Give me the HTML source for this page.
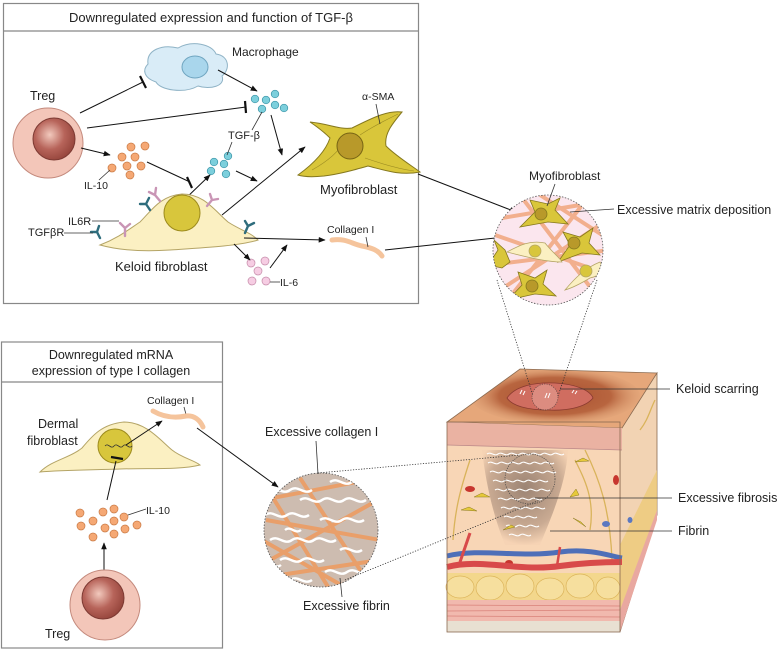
<!DOCTYPE html>
<html><head><meta charset="utf-8"><style>
html,body{margin:0;padding:0;background:#fff}
svg{display:block}
text{font-family:"Liberation Sans",sans-serif;fill:#222}
</style></head><body>
<svg width="783" height="649" viewBox="0 0 783 649" xmlns="http://www.w3.org/2000/svg">
<defs>
<marker id="ar" viewBox="0 0 10 10" refX="9" refY="5" markerWidth="7" markerHeight="7" orient="auto"><path d="M0,1 L10,5 L0,9z" fill="#111"/></marker>
<radialGradient id="tg" cx="0.4" cy="0.4" r="0.7"><stop offset="0" stop-color="#f2c9bd"/><stop offset="0.5" stop-color="#b7645a"/><stop offset="1" stop-color="#8e3e35"/></radialGradient>
<radialGradient id="scar" cx="0.5" cy="0.5" r="0.55"><stop offset="0" stop-color="#a84f30"/><stop offset="0.6" stop-color="#b8653f"/><stop offset="1" stop-color="#e2ad82" stop-opacity="0"/></radialGradient>
<radialGradient id="fib" cx="0.5" cy="0.4" r="0.6"><stop offset="0" stop-color="#9c8474"/><stop offset="0.7" stop-color="#c9aa92"/><stop offset="1" stop-color="#f6d3b4"/></radialGradient>
<clipPath id="c1"><circle cx="548" cy="250" r="55"/></clipPath>
<clipPath id="c2"><circle cx="321" cy="530" r="57"/></clipPath>
<clipPath id="tf"><polygon points="447,422 622,428 657,373 520,369"/></clipPath>
</defs>

<rect x="3.5" y="3.5" width="415" height="300" fill="#fff" stroke="#888" stroke-width="1.2"/>
<line x1="3.5" y1="31" x2="418.5" y2="31" stroke="#888" stroke-width="1.2"/>
<text x="211" y="22" font-size="13" text-anchor="middle">Downregulated expression and function of TGF-β</text>

<path d="M148,64 C146,50 162,44 178,48 C192,40 212,44 216,54 C230,56 230,70 222,76 C226,86 210,90 198,86 C184,94 160,90 156,82 C144,78 142,70 148,64Z" fill="#d9ecf7" stroke="#8fb3c6"/>
<ellipse cx="195" cy="67" rx="13" ry="11" fill="#a9d6ec" stroke="#6fa5c0"/>
<text x="232" y="56" font-size="12">Macrophage</text>

<text x="30" y="100" font-size="12.5">Treg</text>
<circle cx="48" cy="143" r="35" fill="#f3c6b9" stroke="#c48a7d"/>
<circle cx="54" cy="139" r="21" fill="url(#tg)" stroke="#7d3a33"/>

<line x1="80" y1="113" x2="143" y2="82" stroke="#111"/>
<line x1="140" y1="76" x2="146" y2="88" stroke="#111" stroke-width="2.2"/>
<line x1="87" y1="128" x2="246" y2="107" stroke="#111"/>
<line x1="245" y1="101" x2="246" y2="113" stroke="#111" stroke-width="2.2"/>
<line x1="81" y1="148" x2="110" y2="155" stroke="#111" marker-end="url(#ar)"/>
<line x1="147" y1="162" x2="190" y2="182" stroke="#111"/>
<line x1="187" y1="177" x2="192" y2="188" stroke="#111" stroke-width="2.2"/>

<g fill="#f5a874" stroke="#c97a45" stroke-width="0.7">
<circle cx="131" cy="147" r="4"/><circle cx="145" cy="146" r="4"/><circle cx="122" cy="157" r="4"/><circle cx="135" cy="157" r="4"/><circle cx="127" cy="166" r="4"/><circle cx="141" cy="166" r="4"/><circle cx="112" cy="168" r="4"/><circle cx="130" cy="175" r="4"/>
</g>
<text x="84" y="189" font-size="10.5">IL-10</text>
<line x1="99" y1="180" x2="110" y2="170" stroke="#333" stroke-width="0.8"/>

<g fill="#7ccfdc" stroke="#3a93a6" stroke-width="0.7">
<circle cx="255" cy="99" r="3.8"/><circle cx="266" cy="100" r="3.8"/><circle cx="275" cy="94" r="3.8"/><circle cx="275" cy="105" r="3.8"/><circle cx="262" cy="109" r="3.8"/><circle cx="284" cy="108" r="3.8"/>
<circle cx="228" cy="156" r="3.8"/><circle cx="214" cy="162" r="3.8"/><circle cx="224" cy="164" r="3.8"/><circle cx="211" cy="171" r="3.8"/><circle cx="226" cy="174" r="3.8"/>
</g>
<text x="228" y="139" font-size="11">TGF-β</text>
<line x1="252" y1="130" x2="262" y2="112" stroke="#333" stroke-width="0.8"/>
<line x1="232" y1="142" x2="227" y2="155" stroke="#333" stroke-width="0.8"/>

<line x1="218" y1="70" x2="257" y2="91" stroke="#111" marker-end="url(#ar)"/>
<line x1="271" y1="115" x2="282" y2="155" stroke="#111" marker-end="url(#ar)"/>
<line x1="236" y1="171" x2="257" y2="181" stroke="#111" marker-end="url(#ar)"/>
<line x1="183" y1="201" x2="210" y2="175" stroke="#111" marker-end="url(#ar)"/>
<line x1="222" y1="215" x2="305" y2="147" stroke="#111" marker-end="url(#ar)"/>

<path d="M100,245 C118,238 128,230 140,222 C152,210 160,196 182,194 C204,194 214,210 228,222 C240,230 250,232 258,240 C240,246 200,248 170,250 C140,252 118,250 100,245Z" fill="#fbf0c2" stroke="#b4a466"/>
<circle cx="182" cy="213" r="18" fill="#d8c63c" stroke="#9c8a1c"/>
<g stroke-width="2.4" fill="none" stroke-linecap="round">
<path d="M125,236 v-8 M125,228 l-5,-5 M125,228 l5,-4" stroke="#c995b5"/>
<path d="M160,201 l-5,-6 M155,195 l-6,-3 M155,195 l1,-7" stroke="#c995b5"/>
<path d="M207,206 l5,-6 M212,200 l-2,-6 M212,200 l6,-1" stroke="#c995b5"/>
<path d="M100,238 l-3,-6 M97,232 l-6,0 M97,232 l2,-6" stroke="#2f6d7d"/>
<path d="M150,210 l-4,-6 M146,204 l-6,0 M146,204 l3,-6" stroke="#2f6d7d"/>
<path d="M245,233 l3,-7 M248,226 l-3,-5 M248,226 l6,-3" stroke="#2f6d7d"/>
</g>
<text x="68" y="225" font-size="11">IL6R</text>
<line x1="92" y1="221" x2="119" y2="221" stroke="#333" stroke-width="0.8"/>
<text x="28" y="236" font-size="11">TGFβR</text>
<line x1="64" y1="233" x2="93" y2="233" stroke="#333" stroke-width="0.8"/>
<text x="115" y="271" font-size="13">Keloid fibroblast</text>

<line x1="244" y1="238" x2="325" y2="240" stroke="#111" marker-end="url(#ar)"/>
<path d="M332,240 C346,238 352,244 362,246 C372,248 378,250 382,256" stroke="#f5c49c" stroke-width="5" fill="none" stroke-linecap="round"/>
<text x="327" y="233" font-size="10.5">Collagen I</text>
<line x1="366" y1="237" x2="368" y2="247" stroke="#333" stroke-width="0.8"/>

<g fill="#f6cde3" stroke="#c48aa8" stroke-width="0.7">
<circle cx="251" cy="263" r="4"/><circle cx="265" cy="261" r="4"/><circle cx="258" cy="271" r="4"/><circle cx="252" cy="281" r="4"/><circle cx="266" cy="281" r="4"/>
</g>
<text x="280" y="286" font-size="10.5">IL-6</text>
<line x1="270" y1="282" x2="280" y2="282" stroke="#333" stroke-width="0.8"/>
<line x1="234" y1="244" x2="250" y2="260" stroke="#111" marker-end="url(#ar)"/>
<line x1="270" y1="268" x2="287" y2="245" stroke="#111" marker-end="url(#ar)"/>

<path d="M298,175 C316,162 326,150 330,138 C322,130 316,126 310,122 C330,124 340,130 352,128 C372,118 388,110 402,112 C392,124 384,134 386,146 C396,156 412,166 420,172 C400,176 384,170 368,166 C354,170 340,174 324,176 C314,177 304,177 298,175Z" fill="#d9c63a" stroke="#85781e"/>
<g stroke="#9c8c22" stroke-width="0.6" fill="none"><path d="M312,170 C330,160 340,150 345,140"/><path d="M360,135 C375,125 390,118 398,114"/><path d="M365,158 C385,165 400,169 414,171"/></g>
<circle cx="350" cy="146" r="13" fill="#b8992a" stroke="#776414"/>
<text x="362" y="100" font-size="10.5">α-SMA</text>
<line x1="376" y1="104" x2="380" y2="124" stroke="#333" stroke-width="0.8"/>
<text x="320" y="194" font-size="13">Myofibroblast</text>

<line x1="418" y1="174" x2="516" y2="212" stroke="#111" marker-end="url(#ar)"/>
<line x1="385" y1="250" x2="514" y2="236" stroke="#111" marker-end="url(#ar)"/>

<circle cx="548" cy="250" r="55" fill="#fbe6ee"/>
<g clip-path="url(#c1)">
<g stroke="#f0a57c" stroke-width="4" fill="none" opacity="0.85">
<path d="M490,220 L610,200"/><path d="M495,235 L610,275"/><path d="M500,290 L600,225"/><path d="M520,195 L600,300"/><path d="M490,265 L610,250"/><path d="M500,310 L590,195"/><path d="M540,195 L610,240"/>
</g>
<g fill="#d9c63a" stroke="#85781e" stroke-width="0.8">
<path d="M520,227 L535,212 L530,200 L548,204 L560,198 L555,210 L568,224 L548,222Z"/><circle cx="541" cy="214" r="6" fill="#b8992a"/>
<path d="M558,262 L570,245 L563,232 L580,237 L593,228 L589,243 L600,255 L582,253Z"/><circle cx="574" cy="243" r="6" fill="#b8992a"/>
<path d="M508,300 L522,285 L518,272 L535,278 L547,270 L543,284 L556,296 L535,294Z"/><circle cx="532" cy="286" r="6" fill="#b8992a"/>
<path d="M488,265 L498,250 L494,240 L505,250 L510,262 L502,268Z"/>
</g>
<g fill="#fbf0c2" stroke="#b4a466" stroke-width="0.8">
<path d="M507,252 C520,245 530,240 545,243 C552,252 560,258 562,262 C548,262 530,258 507,252Z"/><circle cx="535" cy="251" r="6" fill="#d8c63c"/>
<path d="M565,290 C575,278 585,268 600,262 C605,270 600,276 590,278 C580,284 572,288 565,290Z"/><circle cx="586" cy="271" r="6" fill="#d8c63c"/>
</g>
</g>
<circle cx="548" cy="250" r="55" fill="none" stroke="#555" stroke-width="0.8" stroke-dasharray="1.5,1.5"/>
<text x="529" y="180" font-size="12">Myofibroblast</text>
<line x1="555" y1="184" x2="547" y2="206" stroke="#333" stroke-width="0.8"/>
<text x="617" y="214" font-size="12.5">Excessive matrix deposition</text>
<line x1="570" y1="212" x2="614" y2="209" stroke="#333" stroke-width="0.8"/>

<rect x="1.5" y="342" width="221" height="306" fill="#fff" stroke="#888" stroke-width="1.2"/>
<line x1="1.5" y1="382" x2="222.5" y2="382" stroke="#888" stroke-width="1.2"/>
<text x="111" y="359" font-size="12.5" text-anchor="middle">Downregulated mRNA</text>
<text x="111" y="375" font-size="12.5" text-anchor="middle">expression of type I collagen</text>

<text x="38" y="428" font-size="12.5">Dermal</text>
<text x="27" y="445" font-size="12.5">fibroblast</text>
<path d="M40,472 C52,460 70,458 82,448 C92,436 102,424 124,422 C146,422 160,440 172,450 C182,458 194,460 200,465 C180,470 150,468 120,469 C90,470 62,470 40,472Z" fill="#fbf0c2" stroke="#b4a466"/>
<circle cx="115" cy="446" r="17" fill="#d8c63c" stroke="#9c8a1c"/>
<path d="M105,446 c3,-4 6,4 9,0 c3,-4 6,4 9,0 c3,-4 6,4 9,0" stroke="#333" fill="none" stroke-width="0.8"/>
<line x1="111" y1="457" x2="123" y2="459" stroke="#111" stroke-width="2.2"/>
<line x1="107" y1="500" x2="116" y2="461" stroke="#111"/>
<line x1="126" y1="445" x2="162" y2="421" stroke="#111" marker-end="url(#ar)"/>
<text x="147" y="404" font-size="10.5">Collagen I</text>
<line x1="184" y1="407" x2="187" y2="418" stroke="#333" stroke-width="0.8"/>
<path d="M153,411 C165,418 176,418 186,416 C194,415 200,420 203,427" stroke="#f5c49c" stroke-width="5" fill="none" stroke-linecap="round"/>

<g fill="#f5a874" stroke="#c97a45" stroke-width="0.7">
<circle cx="80" cy="513" r="4"/><circle cx="103" cy="512" r="4"/><circle cx="114" cy="509" r="4"/><circle cx="124" cy="517" r="4"/><circle cx="93" cy="521" r="4"/><circle cx="114" cy="521" r="4"/><circle cx="81" cy="526" r="4"/><circle cx="105" cy="528" r="4"/><circle cx="125" cy="529" r="4"/><circle cx="137" cy="525" r="4"/><circle cx="93" cy="537" r="4"/><circle cx="114" cy="534" r="4"/>
</g>
<text x="146" y="514" font-size="10.5">IL-10</text>
<line x1="128" y1="515" x2="146" y2="509" stroke="#333" stroke-width="0.8"/>
<line x1="104" y1="570" x2="104" y2="543" stroke="#111" marker-end="url(#ar)"/>
<circle cx="105" cy="605" r="35" fill="#f3c6b9" stroke="#c48a7d"/>
<circle cx="103" cy="598" r="21" fill="url(#tg)" stroke="#7d3a33"/>
<text x="45" y="638" font-size="12.5">Treg</text>

<line x1="197" y1="428" x2="278" y2="487" stroke="#111" marker-end="url(#ar)"/>
<circle cx="321" cy="530" r="57" fill="#cdbcb0"/>
<g clip-path="url(#c2)">
<g stroke="#ee9a5e" stroke-width="4" fill="none" opacity="0.85">
<path d="M262,500 L378,478"/><path d="M266,520 L380,540"/><path d="M270,560 L378,500"/><path d="M280,575 L380,560"/><path d="M300,478 L370,585"/><path d="M262,540 L350,590"/><path d="M262,480 L330,590"/>
</g>
<g stroke="#fff" stroke-width="2.4" fill="none">
<path d="M268,490 c8,-6 14,6 22,0 c8,-6 14,6 22,0"/><path d="M300,500 c8,-6 14,6 22,0 c8,-6 14,6 22,0 c8,-6 14,6 22,0"/>
<path d="M265,515 c8,-6 14,6 22,0 c8,-6 14,6 22,0"/><path d="M320,520 c8,-6 14,6 22,0 c8,-6 14,6 22,0"/>
<path d="M270,540 c8,-6 14,6 22,0 c8,-6 14,6 22,0 c8,-6 14,6 22,0"/><path d="M340,550 c8,-6 14,6 22,0"/>
<path d="M280,560 c8,-6 14,6 22,0 c8,-6 14,6 22,0"/><path d="M325,572 c8,-6 14,6 22,0 c8,-6 14,6 22,0"/>
<path d="M290,580 c8,-6 14,6 22,0"/><path d="M285,530 c6,-5 10,5 16,0"/><path d="M330,482 c8,-6 14,6 22,0"/><path d="M265,565 c6,-5 10,5 16,0"/>
</g>
</g>
<circle cx="321" cy="530" r="57" fill="none" stroke="#555" stroke-width="0.8" stroke-dasharray="1.5,1.5"/>
<text x="265" y="436" font-size="12.5">Excessive collagen I</text>
<line x1="316" y1="441" x2="318" y2="474" stroke="#333" stroke-width="0.8"/>
<text x="303" y="610" font-size="12.5">Excessive fibrin</text>
<line x1="342" y1="597" x2="340" y2="578" stroke="#333" stroke-width="0.8"/>

<!-- skin block -->
<polygon points="620,427 657,373 657,515 620,632" fill="#f2d3b3" stroke="#8a6a50" stroke-width="0.8"/>
<polygon points="620,545 657,470 657,515 620,610" fill="#eccb78" opacity="0.8"/>
<polygon points="620,610 657,510 657,520 620,632" fill="#e9a8a0"/>
<rect x="447" y="422" width="173" height="210" fill="#f8d6b6"/>
<polygon points="447,422 622,428 657,373 520,369" fill="#e6a77a"/>
<g clip-path="url(#tf)"><ellipse cx="555" cy="396" rx="85" ry="28" fill="url(#scar)"/></g>
<polygon points="447,422 622,428 657,373 520,369" fill="none" stroke="#8a6a50" stroke-width="0.8"/>
<path d="M507,398 C515,386 535,382 555,383 C575,384 590,390 593,398 C585,408 565,411 548,410 C528,410 512,406 507,398Z" fill="#d06d60" stroke="#8a3a30" stroke-width="0.8"/>
<circle cx="545" cy="397" r="13" fill="#e29a8e" opacity="0.7" stroke="#333" stroke-width="0.7" stroke-dasharray="1.2,1.2"/>
<g stroke="#fff" stroke-width="1" fill="none"><path d="M520,394 l2,-4 M523,395 l2,-4"/><path d="M545,398 l2,-5 M548,398 l2,-5"/><path d="M572,393 l2,-3 M575,394 l2,-3"/></g>
<polygon points="447,422 622,428 622,450 447,445" fill="#eab2a2"/>
<line x1="447" y1="445" x2="622" y2="450" stroke="#b88" stroke-width="0.7"/>
<path d="M482,450 L568,450 C566,485 550,520 540,545 L505,545 C494,518 486,485 482,450Z" fill="url(#fib)"/>
<g stroke="#fff" stroke-width="1.1" fill="none">
<path d="M487,454 c4,-3 7,3 11,0 c4,-3 7,3 11,0 c4,-3 7,3 11,0 c4,-3 7,3 11,0 c4,-3 7,3 11,0 c4,-3 7,3 11,0 c4,-3 7,3 11,0"/>
<path d="M488,463 c4,-3 7,3 11,0 c4,-3 7,3 11,0 c4,-3 7,3 11,0 c4,-3 7,3 11,0 c4,-3 7,3 11,0 c4,-3 7,3 11,0"/>
<path d="M490,472 c4,-3 7,3 11,0 c4,-3 7,3 11,0 c4,-3 7,3 11,0 c4,-3 7,3 11,0 c4,-3 7,3 11,0 c4,-3 7,3 11,0"/>
<path d="M493,481 c4,-3 7,3 11,0 c4,-3 7,3 11,0 c4,-3 7,3 11,0 c4,-3 7,3 11,0 c4,-3 7,3 11,0"/>
<path d="M495,490 c4,-3 7,3 11,0 c4,-3 7,3 11,0 c4,-3 7,3 11,0 c4,-3 7,3 11,0 c4,-3 7,3 11,0"/>
<path d="M498,499 c4,-3 7,3 11,0 c4,-3 7,3 11,0 c4,-3 7,3 11,0 c4,-3 7,3 11,0"/>
<path d="M501,508 c4,-3 7,3 11,0 c4,-3 7,3 11,0 c4,-3 7,3 11,0 c4,-3 7,3 11,0"/>
<path d="M504,517 c4,-3 7,3 11,0 c4,-3 7,3 11,0 c4,-3 7,3 11,0"/>
<path d="M506,526 c4,-3 7,3 11,0 c4,-3 7,3 11,0 c4,-3 7,3 11,0"/>
<path d="M509,535 c4,-3 7,3 11,0 c4,-3 7,3 11,0"/>
</g>
<circle cx="530" cy="479" r="25" fill="none" stroke="#444" stroke-width="0.7" stroke-dasharray="1.2,1.2"/>
<g stroke="#d9b35a" stroke-width="1.3" fill="none">
<path d="M453,540 C455,510 460,490 470,460"/><path d="M585,450 C600,480 610,510 612,560"/><path d="M590,530 C595,500 585,480 575,460"/><path d="M640,430 C648,420 650,410 655,400"/>
</g>
<g fill="#c7362e"><ellipse cx="470" cy="489" rx="5" ry="3"/><ellipse cx="616" cy="480" rx="3" ry="5"/><ellipse cx="509" cy="563" rx="4" ry="3"/></g>
<g fill="#5b78c0"><ellipse cx="606" cy="524" rx="4" ry="3"/><ellipse cx="630" cy="520" rx="2.5" ry="3"/></g>
<g fill="#e6c93a" stroke="#8a7a20" stroke-width="0.5"><path d="M474,497 l8,-4 l8,4z"/><path d="M461,510 l8,-3 l8,4z"/><path d="M575,462 l8,-4 l6,3z"/><path d="M570,497 l6,-8 l3,6z"/><path d="M503,530 l8,-5 l4,2z"/><path d="M573,518 l8,4 l5,5z"/></g>
<path d="M447,556 C480,548 520,558 560,552 C590,548 610,556 622,558" stroke="#4e6fb8" stroke-width="5" fill="none"/>
<path d="M447,567 C480,558 520,572 560,566 C590,562 610,562 622,562" stroke="#d84a4a" stroke-width="6" fill="none"/>
<path d="M460,562 L470,533" stroke="#d84a4a" stroke-width="3"/><path d="M557,566 L560,547" stroke="#d84a4a" stroke-width="2.5"/>
<rect x="447" y="573" width="173" height="27" fill="#f3d78c"/>
<g fill="#f6df9e" stroke="#dcb45a" stroke-width="0.7"><ellipse cx="460" cy="587" rx="14" ry="11"/><ellipse cx="490" cy="588" rx="14" ry="12"/><ellipse cx="520" cy="586" rx="14" ry="12"/><ellipse cx="550" cy="589" rx="14" ry="11"/><ellipse cx="580" cy="586" rx="14" ry="12"/><ellipse cx="608" cy="588" rx="12" ry="11"/></g>
<rect x="447" y="600" width="173" height="21" fill="#f1b9ae"/>
<g stroke="#d9827a" stroke-width="0.7"><line x1="447" y1="605" x2="620" y2="606"/><line x1="447" y1="611" x2="620" y2="610"/><line x1="447" y1="616" x2="620" y2="617"/></g>
<rect x="447" y="621" width="173" height="11" fill="#e8e0d2"/>
<rect x="447" y="422" width="173" height="210" fill="none" stroke="#8a6a50" stroke-width="0.8"/>

<g stroke="#333" stroke-width="0.8" stroke-dasharray="1.2,1.5" fill="none">
<line x1="497" y1="280" x2="533" y2="396"/>
<line x1="597" y1="280" x2="558" y2="396"/>
<line x1="318" y1="473" x2="520" y2="455"/>
<line x1="345" y1="580" x2="540" y2="500"/>
</g>
<line x1="560" y1="389" x2="670" y2="389" stroke="#333" stroke-width="0.8"/>
<text x="676" y="393" font-size="12.5">Keloid scarring</text>
<line x1="535" y1="498" x2="672" y2="498" stroke="#333" stroke-width="0.8"/>
<text x="678" y="502" font-size="12.5">Excessive fibrosis</text>
<line x1="550" y1="531" x2="672" y2="531" stroke="#333" stroke-width="0.8"/>
<text x="678" y="535" font-size="12.5">Fibrin</text>
</svg>
</body></html>
